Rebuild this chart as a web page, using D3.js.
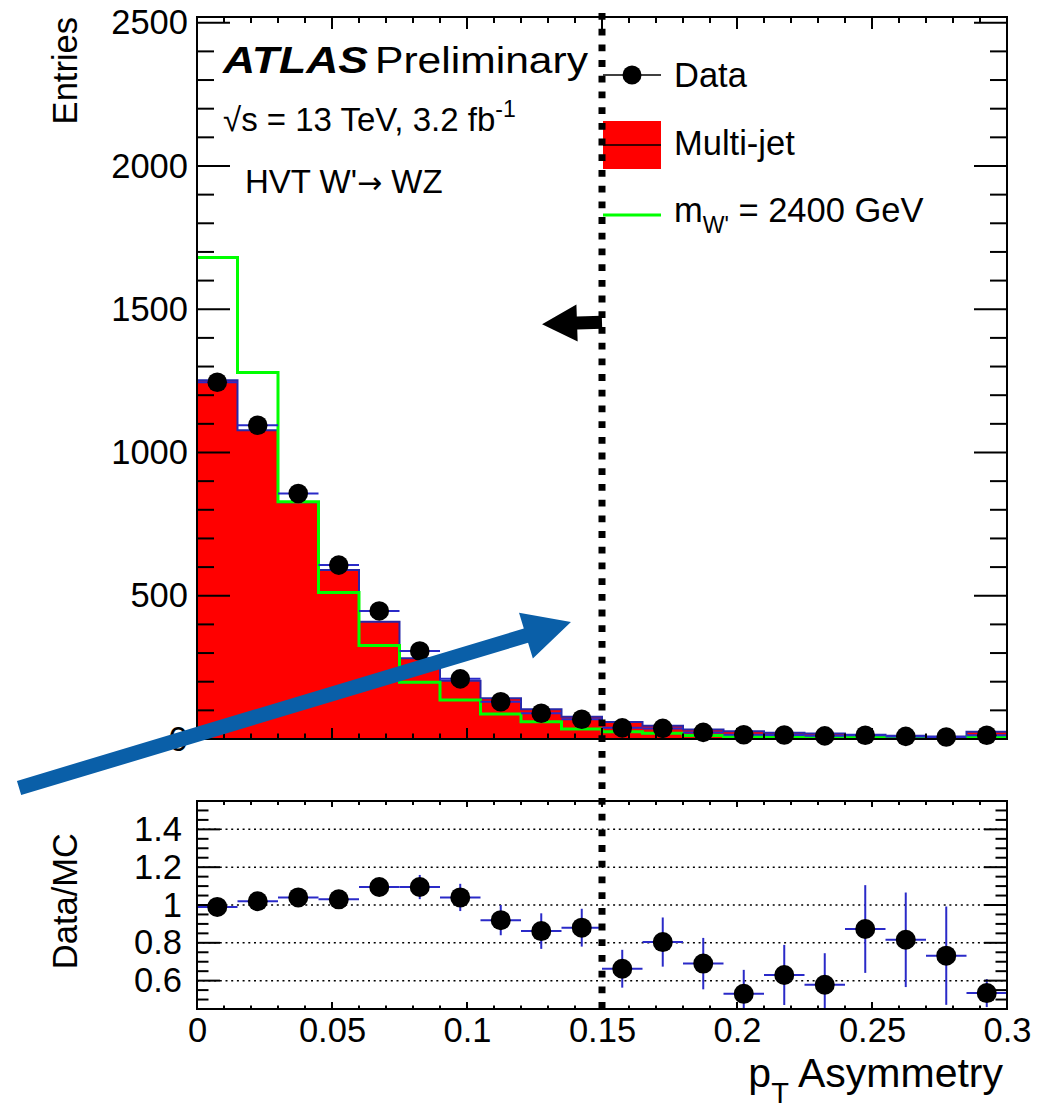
<!DOCTYPE html>
<html><head><meta charset="utf-8">
<script src="https://cdn.jsdelivr.net/npm/d3@7"></script>
<style>html,body{margin:0;padding:0;background:#fff;} svg{display:block;font-family:"Liberation Sans",Arial,Helvetica,sans-serif;}</style>
</head><body><svg id="c" width="1038" height="1109"></svg>
<script>
// ---- data ----
const binEdges = [0,0.015,0.03,0.045,0.06,0.075,0.09,0.105,0.12,0.135,0.15,0.165,0.18,0.195,0.21,0.225,0.24,0.255,0.27,0.285,0.3];
const dataCounts = [1245,1095,857,607,447,307,210,130,90,69,39,37,23,15,14,11,13,9,7,13];
const multijet   = [1252,1078,826,590,409,282,203,142,104,78,59,46,33,27,22,19,15,11,9,25];
const signal2400 = [1681,1279,828,511,326,198,136,87,60,35,25,20,12,9,7,6,6,5,5,7];
const ratio    = [0.99,1.02,1.04,1.03,1.095,1.095,1.04,0.92,0.862,0.88,0.663,0.804,0.69,0.53,0.63,0.578,0.873,0.816,0.732,0.534];
const ratioErr = [0.015,0.02,0.025,0.03,0.045,0.064,0.072,0.08,0.094,0.10,0.10,0.13,0.136,0.127,0.159,0.167,0.232,0.25,0.26,0.074];
const xTicks = [0,0.05,0.1,0.15,0.2,0.25,0.3];
const xTickLabels = ["0","0.05","0.1","0.15","0.2","0.25","0.3"];
const yTicksMain = [0,500,1000,1500,2000,2500];
const yTicksRatio = [0.6,0.8,1,1.2,1.4];
const ratioTickLabels = ["0.6","0.8","1","1.2","1.4"];
const cutValue = 0.15;
const blackArrow = {from:[0.15,1455], to:[0.1278,1448]};
const blueArrow  = {from:[-0.0659,-171], to:[0.1385,408]};

// ---- layout ----
const svg = d3.select("#c");
const x = d3.scaleLinear().domain([0,0.3]).range([197,1007]);
const yM = d3.scaleLinear().domain([0,2520]).range([739,17]);
const yR = d3.scaleLinear().domain([0.45,1.55]).range([1009,801]);
const FONT = 34.5;
const mcStroke = "#2828a8", errBlue = "#2a2ac8";

svg.append("defs").append("clipPath").attr("id","clipR")
  .append("rect").attr("x",x(0)).attr("y",yR(1.55)).attr("width",x(0.3)-x(0)).attr("height",yR(0.45)-yR(1.55));

const nb = dataCounts.length;
const idx = d3.range(nb);

// ---- main panel ----
const gM = svg.append("g");
let p = d3.path();
p.moveTo(x(binEdges[0]), yM(0));
idx.forEach(i => { p.lineTo(x(binEdges[i]), yM(multijet[i])); p.lineTo(x(binEdges[i+1]), yM(multijet[i])); });
p.lineTo(x(binEdges[nb]), yM(0)); p.closePath();
gM.append("path").attr("d", p.toString()).attr("fill","#ff0000").attr("stroke",mcStroke).attr("stroke-width",2);

let ps = d3.path();
idx.forEach(i => {
  if (i===0) ps.moveTo(x(binEdges[0]), yM(signal2400[0])); else ps.lineTo(x(binEdges[i]), yM(signal2400[i]));
  ps.lineTo(x(binEdges[i+1]), yM(signal2400[i]));
});
gM.append("path").attr("d", ps.toString()).attr("fill","none").attr("stroke","#00ff00").attr("stroke-width",3);

gM.selectAll(".dex").data(idx).join("line")
  .attr("x1", i => x(binEdges[i])).attr("x2", i => x(binEdges[i+1]))
  .attr("y1", i => yM(dataCounts[i])).attr("y2", i => yM(dataCounts[i]))
  .attr("stroke", errBlue).attr("stroke-width",2);
gM.selectAll(".dpt").data(idx).join("circle")
  .attr("cx", i => x((binEdges[i]+binEdges[i+1])/2)).attr("cy", i => yM(dataCounts[i]))
  .attr("r", 9.8).attr("fill","#000");

function tickLines(g, vals, fn){ g.selectAll(null).data(vals).join("line").each(function(v){ const c=fn(v); d3.select(this).attr("x1",c[0]).attr("y1",c[1]).attr("x2",c[2]).attr("y2",c[3]); }).attr("stroke","#000").attr("stroke-width",2); }
const gT = svg.append("g");
const yMinorM = d3.range(0, 2501, 100).filter(v => v % 500 !== 0);
const xMinor = d3.range(0, 31, 1).map(v => v/100).filter(v => Math.abs(Math.round(v*20) - v*20) > 1e-6);
tickLines(gT, yTicksMain, v => [x(0), yM(v), x(0)+33, yM(v)]);
tickLines(gT, yMinorM, v => [x(0), yM(v), x(0)+17, yM(v)]);
tickLines(gT, yTicksMain, v => [x(0.3), yM(v), x(0.3)-33, yM(v)]);
tickLines(gT, yMinorM, v => [x(0.3), yM(v), x(0.3)-17, yM(v)]);
tickLines(gT, xTicks, v => [x(v), yM(0), x(v), yM(0)-11]);
tickLines(gT, xMinor, v => [x(v), yM(0), x(v), yM(0)-5.5]);
tickLines(gT, xTicks, v => [x(v), yM(2520), x(v), yM(2520)+12]);
tickLines(gT, xMinor, v => [x(v), yM(2520), x(v), yM(2520)+6]);
gT.append("rect").attr("x",x(0)).attr("y",yM(2520)).attr("width",x(0.3)-x(0)).attr("height",yM(0)-yM(2520))
  .attr("fill","none").attr("stroke","#000").attr("stroke-width",2);

const axL = svg.append("g").attr("transform",`translate(${x(0)},0)`)
  .call(d3.axisLeft(yM).tickValues(yTicksMain).tickSize(0).tickPadding(9).tickFormat(d3.format("d")));
axL.select(".domain").remove();
axL.selectAll("text").attr("font-size",FONT).attr("font-family","Liberation Sans, Arial, sans-serif").attr("fill","#000");

// ---- ratio panel ----
const gR = svg.append("g");
gR.selectAll(".grid").data(yTicksRatio).join("line")
  .attr("x1",x(0)).attr("x2",x(0.3)).attr("y1",d=>yR(d)).attr("y2",d=>yR(d))
  .attr("stroke","#000").attr("stroke-width",1.5).attr("stroke-dasharray","2 3.7");
const gRc = gR.append("g").attr("clip-path","url(#clipR)");
gRc.selectAll(".rex").data(idx).join("line")
  .attr("x1", i => x(binEdges[i])).attr("x2", i => x(binEdges[i+1]))
  .attr("y1", i => yR(ratio[i])).attr("y2", i => yR(ratio[i]))
  .attr("stroke", errBlue).attr("stroke-width",2);
gRc.selectAll(".rey").data(idx).join("line")
  .attr("x1", i => x((binEdges[i]+binEdges[i+1])/2)).attr("x2", i => x((binEdges[i]+binEdges[i+1])/2))
  .attr("y1", i => yR(ratio[i]-ratioErr[i])).attr("y2", i => yR(ratio[i]+ratioErr[i]))
  .attr("stroke", errBlue).attr("stroke-width",2);
gRc.selectAll(".rpt").data(idx).join("circle")
  .attr("cx", i => x((binEdges[i]+binEdges[i+1])/2)).attr("cy", i => yR(ratio[i]))
  .attr("r", 10).attr("fill","#000");

const yMinorR = d3.range(9, 32, 1).map(v => v*0.05).filter(v => v<=1.55 && v>=0.45 && Math.abs(Math.round(v*5)-v*5) > 1e-6);
tickLines(gR, yTicksRatio, v => [x(0), yR(v), x(0)+23, yR(v)]);
tickLines(gR, yMinorR, v => [x(0), yR(v), x(0)+11.5, yR(v)]);
tickLines(gR, yTicksRatio, v => [x(0.3), yR(v), x(0.3)-23, yR(v)]);
tickLines(gR, yMinorR, v => [x(0.3), yR(v), x(0.3)-11.5, yR(v)]);
tickLines(gR, xTicks, v => [x(v), yR(0.45), x(v), yR(0.45)-7]);
tickLines(gR, xMinor, v => [x(v), yR(0.45), x(v), yR(0.45)-3.5]);
tickLines(gR, xTicks, v => [x(v), yR(1.55), x(v), yR(1.55)+6]);
tickLines(gR, xMinor, v => [x(v), yR(1.55), x(v), yR(1.55)+4]);
gR.append("rect").attr("x",x(0)).attr("y",yR(1.55)).attr("width",x(0.3)-x(0)).attr("height",yR(0.45)-yR(1.55))
  .attr("fill","none").attr("stroke","#000").attr("stroke-width",2);

const axRL = svg.append("g").attr("transform",`translate(${x(0)},0)`)
  .call(d3.axisLeft(yR).tickValues(yTicksRatio).tickSize(0).tickPadding(15).tickFormat((d,i)=>ratioTickLabels[i]));
axRL.select(".domain").remove();
axRL.selectAll("text").attr("font-size",FONT).attr("font-family","Liberation Sans, Arial, sans-serif").attr("fill","#000");

const axB = svg.append("g").attr("transform",`translate(0,${yR(0.45)})`)
  .call(d3.axisBottom(x).tickValues(xTicks).tickSize(0).tickPadding(9).tickFormat((d,i)=>xTickLabels[i]));
axB.select(".domain").remove();
axB.selectAll("text").attr("font-size",FONT).attr("font-family","Liberation Sans, Arial, sans-serif").attr("fill","#000");

// ---- titles ----
svg.append("text").attr("transform","translate(77,17) rotate(-90)").attr("text-anchor","end")
  .attr("font-size",FONT).text("Entries");
svg.append("text").attr("transform","translate(77,833) rotate(-90)").attr("text-anchor","end")
  .attr("font-size",FONT).text("Data/MC");
const xt = svg.append("text").attr("x",1003).attr("y",1087).attr("text-anchor","end").attr("font-size",41);
xt.append("tspan").text("p");
xt.append("tspan").attr("font-size",29).attr("dy",16).text("T");
xt.append("tspan").attr("dy",-16).text(" Asymmetry");

svg.append("text").attr("x",223).attr("y",73).attr("font-size",36).attr("font-weight","bold").attr("font-style","italic")
  .attr("textLength",145).attr("lengthAdjust","spacingAndGlyphs").text("ATLAS");
svg.append("text").attr("x",375).attr("y",73).attr("font-size",36)
  .attr("textLength",213).attr("lengthAdjust","spacingAndGlyphs").text("Preliminary");
const en = svg.append("text").attr("x",223).attr("y",131).attr("font-size",33);
en.append("tspan").text("√");
en.append("tspan").text("s");
en.append("tspan").text(" = 13 TeV, 3.2 fb");
en.append("tspan").attr("font-size",23).attr("dy",-14).text("-1");
const hv = svg.append("text").attr("x",245).attr("y",193).attr("font-size",33);
hv.append("tspan").text("HVT W'");
hv.append("tspan").attr("font-family","DejaVu Sans").attr("font-size",30).text("\u2192");
hv.append("tspan").text(" WZ");

// legend
const lg = svg.append("g");
lg.append("line").attr("x1",603).attr("x2",661).attr("y1",75).attr("y2",75).attr("stroke","#000").attr("stroke-width",1.5);
lg.append("circle").attr("cx",632).attr("cy",75).attr("r",9.5).attr("fill","#000");
lg.append("text").attr("x",674).attr("y",87).attr("font-size",FONT).text("Data");
lg.append("rect").attr("x",603).attr("y",121).attr("width",58).attr("height",48).attr("fill","#ff0000");
lg.append("line").attr("x1",603).attr("x2",661).attr("y1",145).attr("y2",145).attr("stroke","#000").attr("stroke-width",1.5);
lg.append("text").attr("x",674).attr("y",155).attr("font-size",FONT).text("Multi-jet");
lg.append("line").attr("x1",603).attr("x2",661).attr("y1",215).attr("y2",215).attr("stroke","#00ff00").attr("stroke-width",3);
const lt = lg.append("text").attr("x",674).attr("y",222).attr("font-size",FONT);
lt.append("tspan").text("m");
lt.append("tspan").attr("font-size",23).attr("dy",11).text("W'");
lt.append("tspan").attr("dy",-11).text(" = 2400 GeV");

// ---- annotations ----
svg.append("line").attr("x1",x(cutValue)).attr("x2",x(cutValue)).attr("y1",13).attr("y2",1010)
  .attr("stroke","#000").attr("stroke-width",7).attr("stroke-dasharray","6.8 8.9");

function arrowPoints(a, shaftHalf, headLen, headHalf){
  const p0=[x(a.from[0]), yM(a.from[1])], p1=[x(a.to[0]), yM(a.to[1])];
  const dx=p1[0]-p0[0], dy=p1[1]-p0[1], L=Math.hypot(dx,dy), ux=dx/L, uy=dy/L, nx=-uy, ny=ux;
  const b=[p1[0]-ux*headLen, p1[1]-uy*headLen];
  return [[p0[0]+nx*shaftHalf,p0[1]+ny*shaftHalf],[b[0]+nx*shaftHalf,b[1]+ny*shaftHalf],[b[0]+nx*headHalf,b[1]+ny*headHalf],
          p1,[b[0]-nx*headHalf,b[1]-ny*headHalf],[b[0]-nx*shaftHalf,b[1]-ny*shaftHalf],[p0[0]-nx*shaftHalf,p0[1]-ny*shaftHalf]]
         .map(q=>q.join(",")).join(" ");
}
svg.append("polygon").attr("points", arrowPoints(blackArrow, 6.5, 35, 18.5)).attr("fill","#000");
svg.append("polygon").attr("points", arrowPoints(blueArrow, 7.4, 47, 24)).attr("fill","#0a5fa8");
</script></body></html>
